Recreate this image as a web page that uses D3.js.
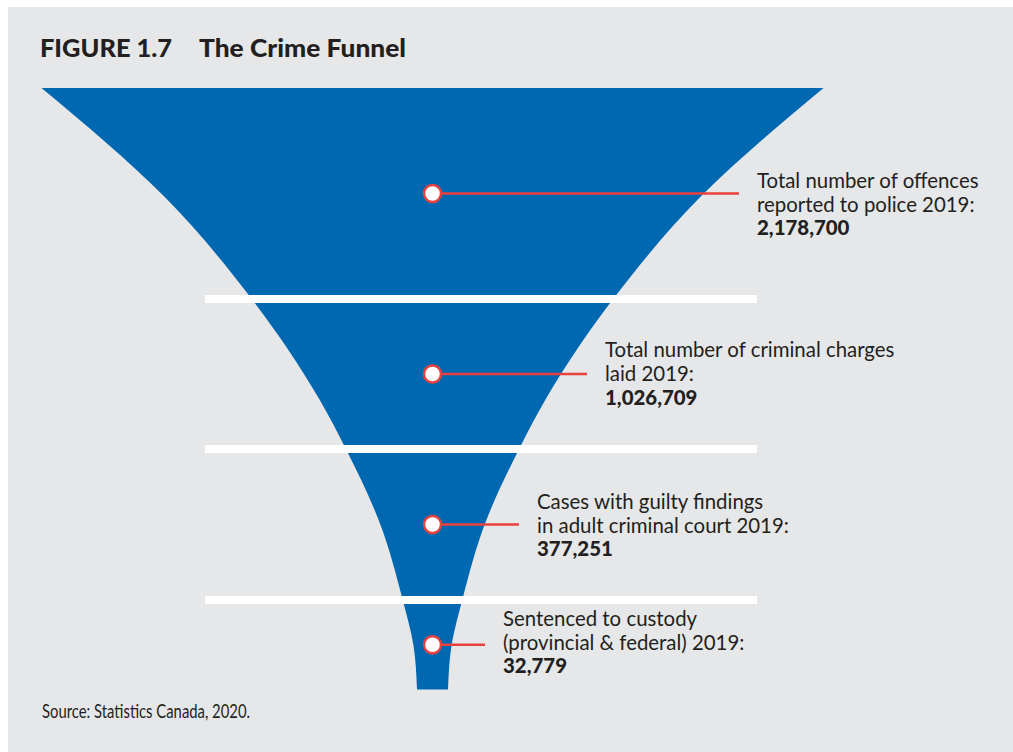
<!DOCTYPE html>
<html>
<head>
<meta charset="utf-8">
<script src="https://d3js.org/d3.v7.min.js"></script>
<style>
  body { margin: 0; background: #fff; }
  text { font-family: Lato, "Open Sans", sans-serif; fill: #231f20; }
</style>
</head>
<body>
<div id="my_dataviz"></div>
<script>

// stage data
var stageNames = ["reported", "charged", "guilty", "custody"];
var stageValues = [2178700, 1026709, 377251, 32779];
var stageText = [
  ["Total number of offences", "reported to police 2019:"],
  ["Total number of criminal charges", "laid 2019:"],
  ["Cases with guilty findings", "in adult criminal court 2019:"],
  ["Sentenced to custody", "(provincial & federal) 2019:"]
];

// funnel outline: vertical position (0 = top, 1 = bottom) -> half width
var profileT = [0, 0.181, 0.348, 0.518, 0.599, 0.722, 0.850, 0.927, 1];
var profileW = [391, 268, 182, 113, 87, 53, 30, 19, 15.5];

var width = 1013, height = 752;
var blue = "#0067b1", red = "#e8413f", bg = "#e6e7e8";

var svg = d3.select("#my_dataviz")
  .append("svg")
    .attr("width", width)
    .attr("height", height);

// grey panel
svg.append("rect")
  .attr("x", 8).attr("y", 7)
  .attr("width", width - 8).attr("height", height - 7)
  .attr("fill", bg);

// title
svg.append("text")
  .attr("x", 40).attr("y", 57)
  .attr("textLength", 132)
  .attr("lengthAdjust", "spacingAndGlyphs")
  .style("font-weight", "900").style("font-size", "25px")
  .text("FIGURE 1.7");
svg.append("text")
  .attr("x", 199).attr("y", 57)
  .attr("textLength", 207)
  .attr("lengthAdjust", "spacingAndGlyphs")
  .style("font-weight", "900").style("font-size", "25px")
  .text("The Crime Funnel");

// scales
var cx = 432.5;
var y = d3.scaleLinear().domain([0, 1]).range([88, 689.5]);
var w = d3.scaleLinear().domain([0, 400]).range([0, 400]);

var profile = profileT.map(function(t, i) { return {t: t, w: profileW[i]}; });

var area = d3.area()
  .y(function(d) { return y(d.t); })
  .x0(function(d) { return cx - w(d.w); })
  .x1(function(d) { return cx + w(d.w); })
  .curve(d3.curveMonotoneY);

svg.append("path")
  .datum(profile)
  .attr("d", area)
  .attr("fill", blue);

// stage boundaries (band centres)
var bounds = [88, 299, 449, 600, 689.5];

svg.selectAll("myBands")
  .data(bounds.slice(1, 4))
  .enter()
  .append("rect")
    .attr("x", 205)
    .attr("y", function(d) { return d - 4; })
    .attr("width", 552)
    .attr("height", 8)
    .attr("fill", "#fff");

var stages = stageNames.map(function(name, i) {
  return {
    name: name,
    value: stageValues[i],
    lines: stageText[i],
    cy: (bounds[i] + bounds[i + 1]) / 2
  };
});

// label placement
var labelX = [757, 605, 537, 503];
var labelDy = [-6, -17, -16, -19];

// leader lines
svg.selectAll("myLeaders")
  .data(stages)
  .enter()
  .append("line")
    .attr("x1", cx)
    .attr("x2", function(d, i) { return labelX[i] - 18; })
    .attr("y1", function(d) { return d.cy; })
    .attr("y2", function(d) { return d.cy; })
    .attr("stroke", red)
    .attr("stroke-width", 2.5);

svg.selectAll("myDots")
  .data(stages)
  .enter()
  .append("circle")
    .attr("cx", cx)
    .attr("cy", function(d) { return d.cy; })
    .attr("r", 8.5)
    .attr("fill", "#fff")
    .attr("stroke", red)
    .attr("stroke-width", 2.5);

var fmt = d3.format(",");

var labels = svg.selectAll("myLabels")
  .data(stages)
  .enter()
  .append("text")
    .attr("x", function(d, i) { return labelX[i]; })
    .attr("y", function(d, i) { return d.cy + labelDy[i]; })
    .style("font-size", "20.4px");

labels.each(function(d, i) {
  var t = d3.select(this);
  d.lines.forEach(function(l, j) {
    t.append("tspan")
      .attr("x", labelX[i])
      .attr("dy", j === 0 ? 0 : 24)
      .text(l);
  });
  t.append("tspan")
    .attr("x", labelX[i])
    .attr("dy", 23.5)
    .style("font-weight", "900")
    .text(fmt(d.value));
});

// source
svg.append("text")
  .attr("x", 42).attr("y", 718)
  .attr("textLength", 208)
  .attr("lengthAdjust", "spacingAndGlyphs")
  .style("font-size", "20px")
  .text("Source: Statistics Canada, 2020.");

</script>
</body>
</html>
